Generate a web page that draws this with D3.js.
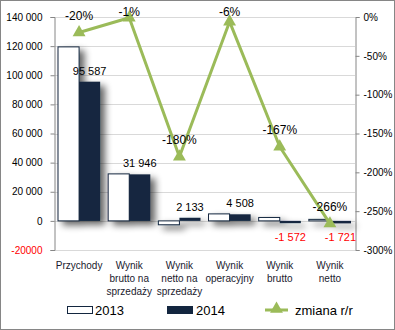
<!DOCTYPE html>
<html>
<head>
<meta charset="utf-8">
<script src="https://cdn.jsdelivr.net/npm/d3@7"></script>
<style>
  html, body { margin: 0; padding: 0; background: #fff; }
  svg { display: block; font-family: "Liberation Sans", Arial, sans-serif; }
</style>
</head>
<body>
<svg id="chart" width="395" height="330"></svg>
<script>
// Categories (multi-line labels)
const categories = ["Przychody", "Wynik brutto na sprzedaży", "Wynik netto na sprzedaży", "Wynik operacyjny", "Wynik brutto", "Wynik netto"];
const categoryLines = [["Przychody"], ["Wynik", "brutto na", "sprzedaży"], ["Wynik", "netto na", "sprzedaży"], ["Wynik", "operacyjny"], ["Wynik", "brutto"], ["Wynik", "netto"]];
const years = ["2013", "2014"];
const values2013 = [119484, 32269, -2666, 4796, 2346, 1037];
const values2014 = [95587, 31946, 2133, 4508, -1572, -1721];
const change = [-20, -1, -180, -6, -167, -266];
const changeLabels = ["-20%", "-1%", "-180%", "-6%", "-167%", "-266%"];
const valueLabels2014 = ["95 587", "31 946", "2 133", "4 508", "-1 572", "-1 721"];
const leftTicks = [-20000, 0, 20000, 40000, 60000, 80000, 100000, 120000, 140000];
const rightTicks = [0, -50, -100, -150, -200, -250, -300];

const svg = d3.select("#chart");
const plot = { left: 54, right: 355, top: 17, bottom: 250 };

const x = d3.scaleBand().domain(categories).range([plot.left, plot.right]).padding(0);
const x1 = d3.scaleBand().domain(years).range([0, x.bandwidth()]).paddingInner(0).paddingOuter(0.19);
const y = d3.scaleLinear().domain([-20000, 140000]).range([plot.bottom, plot.top]);
const y2 = d3.scaleLinear().domain([-300, 0]).range([plot.bottom, plot.top]);

const navy = "#13263f";
const green = "#9bbb59";
const axisGray = "#868686";

// outer frame
svg.append("rect").attr("x", 0.5).attr("y", 0.5).attr("width", 394).attr("height", 329)
  .attr("fill", "#fff").attr("stroke", "#868686");

// drop shadow for bars
const defs = svg.append("defs");
const f = defs.append("filter").attr("id", "shadow").attr("x", "-50%").attr("y", "-50%").attr("width", "200%").attr("height", "200%");
f.append("feGaussianBlur").attr("in", "SourceAlpha").attr("stdDeviation", 3.5).attr("result", "b");
f.append("feOffset").attr("in", "b").attr("dx", 5).attr("dy", 4).attr("result", "o");
f.append("feComponentTransfer").attr("in", "o").attr("result", "s")
  .append("feFuncA").attr("type", "linear").attr("slope", 0.6);
const m = f.append("feMerge");
m.append("feMergeNode").attr("in", "s");
m.append("feMergeNode").attr("in", "SourceGraphic");

// gridlines
svg.append("g").selectAll("line").data(leftTicks).join("line")
  .attr("x1", plot.left).attr("x2", plot.right)
  .attr("y1", d => Math.round(y(d)) + 0.5).attr("y2", d => Math.round(y(d)) + 0.5)
  .attr("stroke", "#d9d9d9").attr("stroke-width", 1);

// left axis
const fmt = d => d < 0 ? String(d) : d3.format(",")(d).replace(/,/g, " ");
const gL = svg.append("g").attr("transform", `translate(${plot.left + 0.5},0)`)
  .call(d3.axisLeft(y).tickValues(leftTicks).tickSize(4).tickPadding(8).tickFormat(fmt));
gL.select(".domain").attr("stroke", axisGray);
gL.selectAll(".tick line").attr("stroke", axisGray);
gL.selectAll(".tick text").attr("font-size", 10).attr("font-family", "Liberation Sans, Arial, sans-serif")
  .attr("fill", d => d < 0 ? "#ff0000" : "#000");

// right axis
const gR = svg.append("g").attr("transform", `translate(${plot.right + 0.5},0)`)
  .call(d3.axisRight(y2).tickValues(rightTicks).tickSize(4).tickPadding(4).tickFormat(d => d + "%"));
gR.select(".domain").attr("stroke", axisGray);
gR.selectAll(".tick line").attr("stroke", axisGray);
gR.selectAll(".tick text").attr("font-size", 10).attr("font-family", "Liberation Sans, Arial, sans-serif").attr("fill", "#000");

// bars
const barData = [];
categories.forEach((c, i) => {
  barData.push({ cat: c, year: "2013", v: values2013[i] });
  barData.push({ cat: c, year: "2014", v: values2014[i] });
});
svg.append("g").attr("filter", "url(#shadow)").selectAll("rect").data(barData).join("rect")
  .attr("x", d => x(d.cat) + x1(d.year))
  .attr("width", x1.bandwidth())
  .attr("y", d => y(Math.max(0, d.v)))
  .attr("height", d => Math.abs(y(d.v) - y(0)))
  .attr("fill", d => d.year === "2013" ? "#fff" : navy)
  .attr("stroke", navy).attr("stroke-width", d => d.year === "2013" ? 1 : 0);

// value labels for 2014 bars
svg.append("g").selectAll("text").data(categories).join("text")
  .attr("x", (c) => x(c) + x1("2014") + x1.bandwidth() / 2)
  .attr("y", (c, i) => values2014[i] >= 0 ? y(values2014[i]) - 11 : y(values2014[i]) + 14)
  .attr("dy", "0.35em")
  .attr("text-anchor", "middle").attr("font-size", 11)
  .attr("fill", (c, i) => values2014[i] < 0 ? "#ff0000" : "#000")
  .text((c, i) => valueLabels2014[i]);

// change line
const cx = c => x(c) + x.bandwidth() / 2;
const line = d3.line().x((d, i) => cx(categories[i])).y(d => y2(d));
svg.append("path").datum(change).attr("d", line)
  .attr("fill", "none").attr("stroke", green).attr("stroke-width", 3).attr("stroke-linejoin", "round");
const tri = d3.symbol().type(d3.symbolTriangle).size(72);
svg.append("g").selectAll("path").data(change).join("path")
  .attr("d", tri)
  .attr("transform", (d, i) => `translate(${cx(categories[i])},${y2(d)})`)
  .attr("fill", green);
svg.append("g").selectAll("text").data(change).join("text")
  .attr("x", (d, i) => cx(categories[i]))
  .attr("y", d => Math.max(y2(d) - 17, 12))
  .attr("dy", "0.35em").attr("text-anchor", "middle").attr("font-size", 12).attr("fill", "#000")
  .text((d, i) => changeLabels[i]);

// category labels
const catG = svg.append("g").selectAll("text").data(categories).join("text")
  .attr("x", c => cx(c)).attr("y", 269)
  .attr("text-anchor", "middle").attr("font-size", 10).attr("fill", "#1a1a2e");
catG.each(function(c, i) {
  d3.select(this).selectAll("tspan").data(categoryLines[i]).join("tspan")
    .attr("x", cx(c)).attr("dy", (d, j) => j === 0 ? 0 : 13).text(d => d);
});

// legend
const leg = svg.append("g").attr("font-size", 13).attr("fill", "#000");
leg.append("rect").attr("x", 67.5).attr("y", 306.5).attr("width", 25).attr("height", 7)
  .attr("fill", "#fff").attr("stroke", navy);
leg.append("text").attr("x", 95).attr("y", 310).attr("dy", "0.35em").text(years[0]);
leg.append("rect").attr("x", 167).attr("y", 306).attr("width", 26).attr("height", 8).attr("fill", navy);
leg.append("text").attr("x", 196).attr("y", 310).attr("dy", "0.35em").text(years[1]);
leg.append("line").attr("x1", 265).attr("x2", 288).attr("y1", 310).attr("y2", 310)
  .attr("stroke", green).attr("stroke-width", 3);
leg.append("path").attr("d", tri).attr("transform", "translate(276.5,309)").attr("fill", green);
leg.append("text").attr("x", 295).attr("y", 310).attr("dy", "0.35em").text("zmiana r/r");
</script>
</body>
</html>
